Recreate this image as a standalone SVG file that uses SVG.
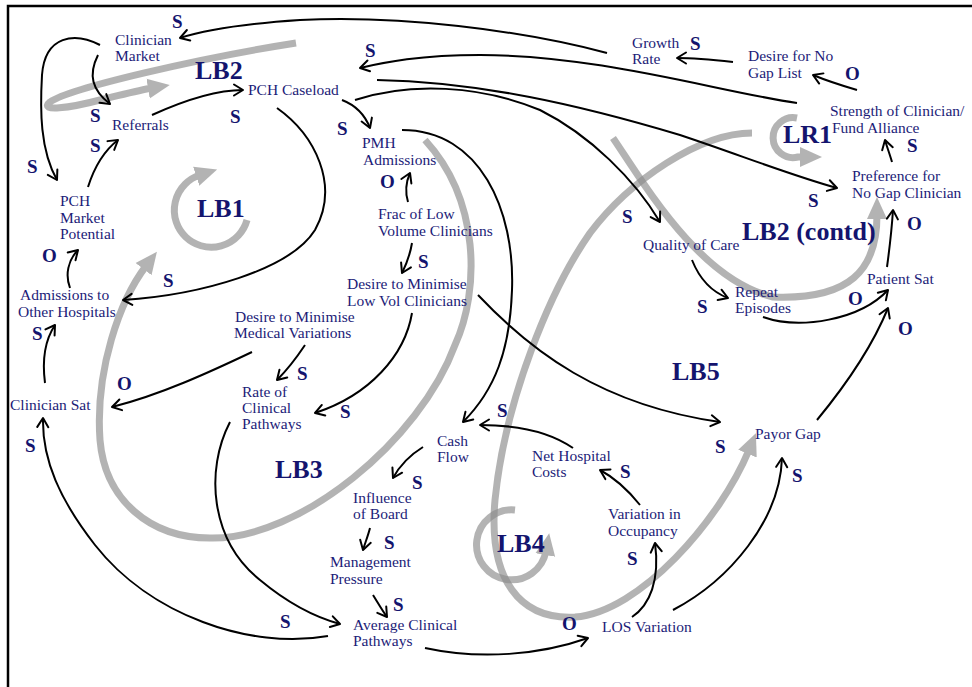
<svg xmlns="http://www.w3.org/2000/svg" width="972" height="687" viewBox="0 0 972 687">
<style>
.n{font-family:"Liberation Serif","Times New Roman",serif;font-size:15.5px;fill:#1c1c78}
.p{font-family:"Liberation Serif","Times New Roman",serif;font-size:19px;font-weight:bold;fill:#14146e}
.lp{font-family:"Liberation Serif","Times New Roman",serif;font-size:26px;font-weight:bold;fill:#14146e}
.c{fill:none;stroke:#000;stroke-width:2;marker-end:url(#ah)}
.g{fill:none;stroke:#8c8c8c;stroke-width:7;opacity:0.65;marker-end:url(#gh)}
</style>
<defs>
<marker id="ah" markerUnits="userSpaceOnUse" markerWidth="14" markerHeight="14" viewBox="0 0 14 14" refX="12" refY="7" orient="auto">
<path d="M3,1.5 L12,7 L3,12.5" fill="none" stroke="#000" stroke-width="2" stroke-linecap="round" stroke-linejoin="round"/>
</marker>
<marker id="gh" markerUnits="userSpaceOnUse" markerWidth="22" markerHeight="22" viewBox="0 0 22 22" refX="4" refY="11" orient="auto">
<path d="M0,1 L22,11 L0,21 z" fill="#8c8c8c"/>
</marker>
</defs>
<rect width="972" height="687" fill="#fff"/>
<g id="frame" stroke="#000" stroke-width="2.5" fill="none">
<path d="M8,687 L8,6 L972,6"/>
</g>
<g id="loops">
<path class="g" d="M296,43 C200,58 70,88 50,102 C38,112 70,108 100,100 C125,94 140,90 152,88"/>
<path class="g" d="M247,220 A37,37 0 1 1 200,175"/>
<path class="g" d="M425,140 C480,200 480,290 455,345 C420,440 300,540 210,538 C150,538 105,500 100,440 C95,370 120,300 146,266"/>
<path class="g" d="M613,138 C645,185 700,280 773,297 C850,300 877,270 877,215"/>
<path class="g" d="M752,133 C700,133 630,180 590,233 C550,290 505,400 495,500 C488,580 520,620 575,617 C640,612 720,520 749,450"/>
<path class="g" d="M515,510 A35,35 0 1 0 546,551"/>
<path class="g" d="M797,118 A20,20 0 1 0 798,157 L804,157"/>
</g>
<g id="connectors">
<path class="c" d="M607,53 C520,30 400,15 300,20 C240,24 205,30 180,38"/>
<path class="c" d="M797,103 C720,92 600,55 480,55 C420,55 385,62 360,68"/>
<path class="c" d="M377,80 C480,82 580,105 680,135 C740,155 790,175 837,188"/>
<path class="c" d="M355,100 C410,82 480,85 540,110 C590,135 635,180 660,222"/>
<path class="c" d="M342,100 C355,105 365,115 370,128"/>
<path class="c" d="M277,108 C315,135 340,185 315,230 C290,270 200,295 123,300"/>
<path class="c" d="M100,45 C75,32 45,35 42,75 C40,110 40,150 57,180"/>
<path class="c" d="M98,55 C88,75 92,90 110,104"/>
<path class="c" d="M88,187 C95,165 105,150 118,140"/>
<path class="c" d="M152,115 C185,100 215,90 243,90"/>
<path class="c" d="M70,288 C65,275 68,260 78,250"/>
<path class="c" d="M45,383 C42,360 45,340 55,325"/>
<path class="c" d="M252,352 C210,372 160,395 112,407"/>
<path class="c" d="M305,345 C295,360 285,372 277,380"/>
<path class="c" d="M412,313 C405,355 370,395 315,413"/>
<path class="c" d="M408,202 C405,192 406,182 410,173"/>
<path class="c" d="M412,243 C410,255 406,265 402,273"/>
<path class="c" d="M402,130 C480,130 515,210 512,290 C510,350 495,390 463,422"/>
<path class="c" d="M478,295 C530,350 600,405 720,422"/>
<path class="c" d="M573,448 C550,432 520,425 480,425"/>
<path class="c" d="M423,447 C410,455 400,465 393,478"/>
<path class="c" d="M370,528 C368,536 365,543 363,550"/>
<path class="c" d="M373,595 C378,603 382,610 387,617"/>
<path class="c" d="M230,422 C205,470 210,540 260,580 C290,605 318,618 340,624"/>
<path class="c" d="M328,636 C250,650 150,615 95,545 C60,500 42,460 43,418"/>
<path class="c" d="M425,648 C480,660 540,655 588,638"/>
<path class="c" d="M632,617 C650,605 660,580 655,543"/>
<path class="c" d="M673,610 C730,580 780,520 782,458"/>
<path class="c" d="M640,505 C628,490 615,478 600,470"/>
<path class="c" d="M817,420 C850,380 875,340 888,308"/>
<path class="c" d="M763,317 C800,330 860,320 888,290"/>
<path class="c" d="M692,260 C700,280 712,292 728,298"/>
<path class="c" d="M887,267 C890,245 892,225 893,210"/>
<path class="c" d="M892,162 C890,155 887,147 885,140"/>
<path class="c" d="M857,90 C840,85 825,80 813,75"/>
<path class="c" d="M733,62 C715,60 695,58 677,58"/>
</g>
<g id="polarities" class="p">
<text x="172" y="28">S</text><text x="230" y="123">S</text><text x="90" y="122">S</text>
<text x="90" y="152">S</text><text x="27" y="173">S</text><text x="42" y="262">O</text>
<text x="163" y="287">S</text><text x="32" y="340">S</text><text x="117" y="390">O</text>
<text x="25" y="452">S</text><text x="297" y="380">S</text><text x="340" y="418">S</text>
<text x="365" y="57">S</text><text x="337" y="135">S</text><text x="380" y="188">O</text>
<text x="418" y="268">S</text><text x="497" y="417">S</text><text x="620" y="478">S</text>
<text x="412" y="489">S</text><text x="384" y="549">S</text><text x="393" y="611">S</text>
<text x="280" y="628">S</text><text x="562" y="630">O</text><text x="627" y="565">S</text>
<text x="715" y="453">S</text><text x="792" y="482">S</text><text x="622" y="223">S</text>
<text x="697" y="313">S</text><text x="848" y="305">O</text><text x="898" y="335">O</text>
<text x="907" y="230">O</text><text x="808" y="207">S</text><text x="907" y="152">S</text>
<text x="845" y="80">O</text><text x="690" y="50">S</text>
</g>
<g id="loop-labels" class="lp">
<text x="195" y="79">LB2</text><text x="197" y="217">LB1</text><text x="275" y="478">LB3</text>
<text x="497" y="552">LB4</text><text x="672" y="380">LB5</text><text x="742" y="240">LB2 (contd)</text>
<text x="783" y="143">LR1</text>
</g>
<g id="clinician-market" class="n"><text x="115" y="45">Clinician</text><text x="115" y="61">Market</text></g>
<g id="pch-caseload" class="n"><text x="248" y="95">PCH Caseload</text></g>
<g id="referrals" class="n"><text x="112" y="130">Referrals</text></g>
<g id="pch-market-potential" class="n"><text x="60" y="206">PCH</text><text x="60" y="223">Market</text><text x="60" y="239">Potential</text></g>
<g id="admissions-other-hospitals" class="n"><text x="20" y="300">Admissions to</text><text x="18" y="317">Other Hospitals</text></g>
<g id="clinician-sat" class="n"><text x="10" y="410">Clinician Sat</text></g>
<g id="desire-min-med-var" class="n"><text x="235" y="322">Desire to Minimise</text><text x="234" y="338">Medical Variations</text></g>
<g id="rate-clinical-pathways" class="n"><text x="242" y="397">Rate of</text><text x="242" y="413">Clinical</text><text x="242" y="429">Pathways</text></g>
<g id="pmh-admissions" class="n"><text x="362" y="148">PMH</text><text x="363" y="165">Admissions</text></g>
<g id="frac-low-vol" class="n"><text x="378" y="219">Frac of Low</text><text x="378" y="236">Volume Clinicians</text></g>
<g id="desire-min-low-vol" class="n"><text x="347" y="289">Desire to Minimise</text><text x="347" y="306">Low Vol Clinicians</text></g>
<g id="cash-flow" class="n"><text x="437" y="446">Cash</text><text x="437" y="462">Flow</text></g>
<g id="net-hospital-costs" class="n"><text x="532" y="461">Net Hospital</text><text x="532" y="477">Costs</text></g>
<g id="influence-board" class="n"><text x="353" y="503">Influence</text><text x="353" y="519">of Board</text></g>
<g id="management-pressure" class="n"><text x="330" y="567">Management</text><text x="330" y="584">Pressure</text></g>
<g id="average-clinical-pathways" class="n"><text x="353" y="630">Average Clinical</text><text x="353" y="646">Pathways</text></g>
<g id="los-variation" class="n"><text x="602" y="632">LOS Variation</text></g>
<g id="variation-occupancy" class="n"><text x="608" y="519">Variation in</text><text x="608" y="536">Occupancy</text></g>
<g id="payor-gap" class="n"><text x="755" y="439">Payor Gap</text></g>
<g id="quality-care" class="n"><text x="643" y="250">Quality of Care</text></g>
<g id="repeat-episodes" class="n"><text x="735" y="297">Repeat</text><text x="735" y="313">Episodes</text></g>
<g id="patient-sat" class="n"><text x="867" y="284">Patient Sat</text></g>
<g id="preference-no-gap" class="n"><text x="852" y="181">Preference for</text><text x="852" y="198">No Gap Clinician</text></g>
<g id="strength-alliance" class="n"><text x="830" y="116">Strength of Clinician/</text><text x="832" y="133">Fund Alliance</text></g>
<g id="desire-no-gap-list" class="n"><text x="748" y="61">Desire for No</text><text x="748" y="78">Gap List</text></g>
<g id="growth-rate" class="n"><text x="632" y="48">Growth</text><text x="632" y="64">Rate</text></g>
</svg>
